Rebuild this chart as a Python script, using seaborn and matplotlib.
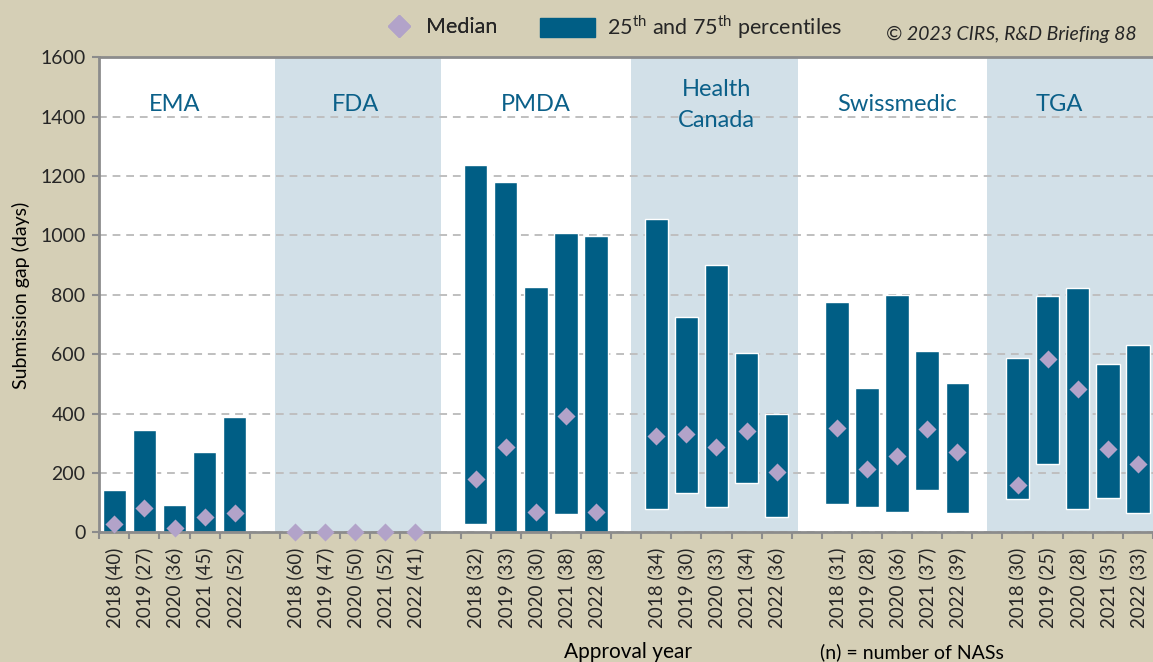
import matplotlib
matplotlib.use("Agg")
import numpy as np
import pandas as pd
import matplotlib.pyplot as plt
import seaborn as sns
from matplotlib.lines import Line2D
from matplotlib.patches import Patch

# Data, five approval years per agency
agencies = ["EMA", "FDA", "PMDA", "Health\nCanada", "Swissmedic", "TGA"]
years = [2018, 2019, 2020, 2021, 2022]
n_nas = [40, 27, 36, 45, 52,
         60, 47, 50, 52, 41,
         32, 33, 30, 38, 38,
         34, 30, 33, 34, 36,
         31, 28, 36, 37, 39,
         30, 25, 28, 35, 33]
p25 = [0, 0, 0, 0, 0,
       0, 0, 0, 0, 0,
       27, 0, 0, 62, 0,
       78, 133, 85, 166, 53,
       95, 84, 67, 142, 64,
       111, 229, 78, 114, 64]
p75 = [142, 344, 92, 271, 389,
       4, 0, 0, 0, 0,
       1238, 1181, 825, 1009, 998,
       1056, 726, 901, 603, 397,
       776, 487, 798, 610, 503,
       587, 795, 823, 568, 632]
median = [27, 81, 15, 53, 66,
          0, 0, 0, 0, 0,
          180, 288, 67, 393, 69,
          324, 331, 288, 342, 204,
          352, 212, 257, 348, 269,
          159, 583, 482, 281, 229]

rows = []
order = []
tick_labels = []
i = 0
for g, agency in enumerate(agencies):
    for year in years:
        key = f"{agency}|{year}"
        rows.append({"key": key, "agency": agency, "p25": p25[i], "p75": p75[i],
                     "median": median[i], "label": f"{year} ({n_nas[i]})"})
        order.append(key)
        tick_labels.append(f"{year} ({n_nas[i]})")
        i += 1
    if g < len(agencies) - 1:
        order.append(f"gap{g}")
        tick_labels.append("")
df = pd.DataFrame(rows)
df["span"] = df["p75"] - df["p25"]

# Colours
bg = "#D5CFB6"
bar_col = "#005E85"
dia_col = "#B2A3C9"
shade = "#D2E0E8"
title_col = "#0B6089"
axis_col = "#8C8C8C"
text_col = "#262626"

sns.set_theme(style="white")
plt.rcParams["font.family"] = ["Lato", "DejaVu Sans"]
plt.rcParams["mathtext.fontset"] = "custom"
plt.rcParams["mathtext.rm"] = "Lato"

fig = plt.figure(figsize=(11.53, 6.62), dpi=100, facecolor=bg)
ax = fig.add_axes([0.0861, 0.1959, 0.9139, 0.7175])
ax.set_facecolor("white")

# Shaded agency panels
for lo, hi in [(5.35, 10.85), (17.15, 22.7), (29.0, 34.6)]:
    ax.axvspan(lo, hi, color=shade, zorder=0.2, lw=0)

# Interquartile bars
sns.barplot(data=df, x="key", y="span", order=order, bottom=df["p25"].values,
            color=bar_col, saturation=1, width=0.78, errorbar=None, ax=ax, zorder=2)

# Medians
sns.stripplot(data=df, x="key", y="median", order=order, jitter=False, marker="D",
              size=9.2, color=dia_col, linewidth=0, ax=ax, zorder=3, clip_on=False)

# Agency labels
centers = [2, 8, 14, 20, 26, 31.4]
for agency, cx in zip(agencies, centers):
    ax.text(cx, 1440, agency, ha="center", va="center", fontsize=17,
            color=title_col, linespacing=1.55)

ax.set_xlim(-0.5, 34.5)
ax.set_ylim(0, 1600)
ax.set_yticks(np.arange(0, 1601, 200))
ax.yaxis.grid(True, linestyle=(0, (4, 3)), color="#BFBFBF", lw=1.4)
ax.set_axisbelow(True)
ax.tick_params(axis="y", length=5, width=1.5, color=axis_col, labelsize=14,
               labelcolor=text_col, pad=5, left=True)

ax.set_xticks(np.arange(-0.5, 35, 1))
ax.set_xticklabels([])
ax.set_xticks(np.arange(35), minor=True)
ax.set_xticklabels(tick_labels, minor=True, rotation=90, fontsize=13.5, color=text_col)
ax.tick_params(axis="x", which="major", length=5, width=1.5, color=axis_col, bottom=True)
ax.tick_params(axis="x", which="minor", length=0, pad=11)
ax.set_xlabel("")
ax.set_ylabel("")

for side in ["left", "bottom", "top"]:
    ax.spines[side].set_color(axis_col)
    ax.spines[side].set_linewidth(2)
ax.spines["right"].set_visible(False)

fig.text(0.018, 0.554, "Submission gap (days)", rotation=90, ha="center", va="center",
         fontsize=14, color="black")
fig.text(0.545, 0.015, "Approval year", ha="center", va="center", fontsize=15, color="black")
fig.text(0.791, 0.015, "(n) = number of NASs", ha="center", va="center", fontsize=14, color="black")
fig.text(0.986, 0.948, "\u00a9 2023 CIRS, R&D Briefing 88", ha="right", va="center",
         fontsize=14, style="italic", color=text_col)

# Legend, as two pieces so the handles sit where the original has them
leg1 = fig.legend([Line2D([], [], marker="D", ls="none", color=dia_col, markersize=11)],
                  ["Median"], frameon=False, loc="center left",
                  bbox_to_anchor=(0.3365, 0.959), fontsize=15.5, handlelength=1.0,
                  handletextpad=0.75, borderpad=0, borderaxespad=0)
fig.legend([Patch(color=bar_col)],
           [r"25$^{\mathrm{th}}$ and 75$^{\mathrm{th}}$ percentiles"],
           frameon=False, loc="center left", bbox_to_anchor=(0.4683, 0.959),
           fontsize=15.5, handlelength=2.55, handleheight=1.0, handletextpad=0.55,
           borderpad=0, borderaxespad=0)
fig.add_artist(leg1)

fig.savefig("out.png", dpi=100, facecolor=bg)
